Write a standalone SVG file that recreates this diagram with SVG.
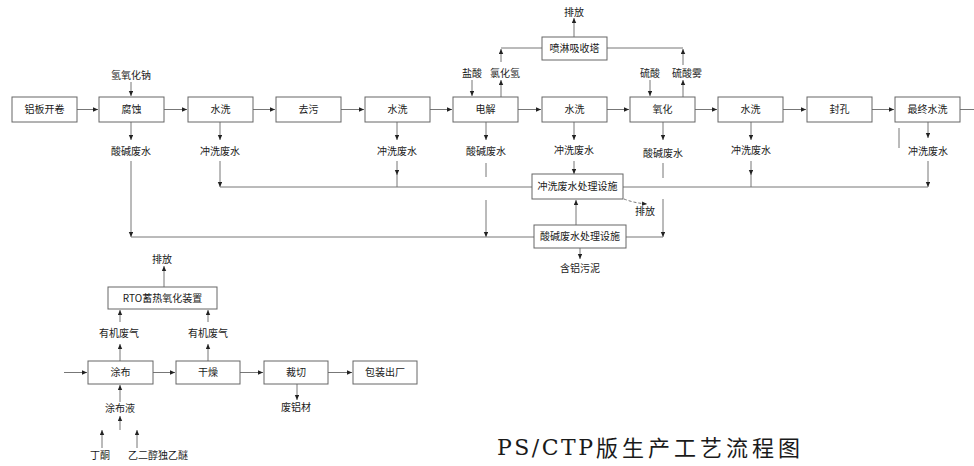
<svg xmlns="http://www.w3.org/2000/svg" width="974" height="466" viewBox="0 0 974 466">
<defs>
<marker id="ah" markerUnits="userSpaceOnUse" markerWidth="6" markerHeight="6" refX="5" refY="2.2" orient="auto">
<path d="M0,0 L5,2.2 L0,4.4 z" fill="#222"/>
</marker>
<style>
.bx{fill:#fff;stroke:#666;stroke-width:1}
.t{font-family:"Noto Sans CJK SC","Noto Sans",sans-serif;font-size:10px;fill:#1a1a1a;text-anchor:middle}
.ln{fill:none;stroke:#777;stroke-width:1}
.ar{fill:none;stroke:#777;stroke-width:1;marker-end:url(#ah)}
.ds{fill:none;stroke:#777;stroke-width:1;stroke-dasharray:3,2;marker-end:url(#ah)}
</style>
</defs>
<rect width="974" height="466" fill="#fff"/>

<g id="connectors">
<path class="ar" d="M77,109.5 H98"/>
<path class="ar" d="M164,109.5 H187"/>
<path class="ar" d="M253,109.5 H275"/>
<path class="ar" d="M341,109.5 H364"/>
<path class="ar" d="M430,109.5 H452"/>
<path class="ar" d="M518,109.5 H541"/>
<path class="ar" d="M607,109.5 H629"/>
<path class="ar" d="M695,109.5 H717"/>
<path class="ar" d="M783,109.5 H806"/>
<path class="ar" d="M872,109.5 H894"/>
<path class="ln" d="M960,109.5 H974"/>
<path class="ar" d="M131,82 V96"/>
<path class="ar" d="M472,80 V96"/>
<path class="ar" d="M501,97 V80"/>
<path class="ar" d="M650,80 V96"/>
<path class="ar" d="M683,97 V80"/>
<path class="ar" d="M501,62 V49"/>
<path class="ln" d="M501,48 H542"/>
<path class="ar" d="M683,65 V49"/>
<path class="ln" d="M607,48 H683"/>
<path class="ar" d="M574,37 V18"/>
<path class="ar" d="M131,122 V140"/>
<path class="ar" d="M220,122 V140"/>
<path class="ar" d="M397,122 V140"/>
<path class="ar" d="M486,122 V140"/>
<path class="ar" d="M574,122 V140"/>
<path class="ar" d="M663,122 V140"/>
<path class="ar" d="M751,122 V140"/>
<path class="ar" d="M928,122 V138"/>
<path class="ln" d="M899,128 V148"/>
<path class="ar" d="M220,161 V187"/>
<path class="ar" d="M397,161 V175"/><path class="ln" d="M397,174 V187"/>
<path class="ar" d="M574,161 V174"/>
<path class="ar" d="M751,161 V175"/><path class="ln" d="M751,174 V187"/>
<path class="ar" d="M928,161 V187"/>
<path class="ln" d="M220,187 H532"/>
<path class="ln" d="M623,187 H928"/>
<path class="ar" d="M131,161 V237"/>
<path class="ln" d="M486,163 V177"/>
<path class="ar" d="M486,200 V237"/>
<path class="ln" d="M663,163 V178"/>
<path class="ar" d="M663,199 V237"/>
<path class="ln" d="M131,237 H534"/>
<path class="ln" d="M626,237 H663"/>
<path class="ar" d="M576,225 V200"/>
<path class="ds" d="M624,199 Q634,203 647,204"/>
<path class="ar" d="M580,248 V259"/>
<path class="ar" d="M64,372.5 H87"/>
<path class="ar" d="M153,372.5 H175"/>
<path class="ar" d="M240,372.5 H263"/>
<path class="ar" d="M328,372.5 H352"/>
<path class="ar" d="M164,287 V266"/>
<path class="ar" d="M120,322 V310"/>
<path class="ar" d="M120,361 V344"/>
<path class="ar" d="M208,322 V310"/>
<path class="ar" d="M208,361 V344"/>
<path class="ar" d="M297,384 V400"/>
<path class="ar" d="M120,402 V385"/>
<path class="ar" d="M120,430 V416"/>
<path class="ar" d="M102,448 V430"/>
<path class="ar" d="M137,448 V430"/>
</g>

<g id="n-lbkj"><rect class="bx" x="12" y="97" width="65" height="25"/><text class="t" x="44.5" y="113">铝板开卷</text></g>
<g id="n-fs"><rect class="bx" x="99" y="97" width="65" height="25"/><text class="t" x="131.5" y="113">腐蚀</text></g>
<g id="n-sx1"><rect class="bx" x="188" y="97" width="65" height="25"/><text class="t" x="220.5" y="113">水洗</text></g>
<g id="n-qw"><rect class="bx" x="276" y="97" width="65" height="25"/><text class="t" x="308.5" y="113">去污</text></g>
<g id="n-sx2"><rect class="bx" x="365" y="97" width="65" height="25"/><text class="t" x="397.5" y="113">水洗</text></g>
<g id="n-dj"><rect class="bx" x="453" y="97" width="65" height="25"/><text class="t" x="485.5" y="113">电解</text></g>
<g id="n-sx3"><rect class="bx" x="542" y="97" width="65" height="25"/><text class="t" x="574.5" y="113">水洗</text></g>
<g id="n-yh"><rect class="bx" x="630" y="97" width="65" height="25"/><text class="t" x="662.5" y="113">氧化</text></g>
<g id="n-sx4"><rect class="bx" x="718" y="97" width="65" height="25"/><text class="t" x="750.5" y="113">水洗</text></g>
<g id="n-fk"><rect class="bx" x="807" y="97" width="65" height="25"/><text class="t" x="839.5" y="113">封孔</text></g>
<g id="n-zzsx"><rect class="bx" x="895" y="97" width="65" height="25"/><text class="t" x="927.5" y="113">最终水洗</text></g>

<g id="n-penlin"><rect class="bx" x="542" y="37" width="65" height="23"/><text class="t" x="574.5" y="52">喷淋吸收塔</text></g>
<g id="n-pf1"><text class="t" x="574" y="15.5">排放</text></g>
<g id="n-qyhn"><text class="t" x="131" y="78.5">氢氧化钠</text></g>
<g id="n-ys"><text class="t" x="472" y="76.5">盐酸</text></g>
<g id="n-lhq"><text class="t" x="505" y="76.5">氯化氢</text></g>
<g id="n-ls"><text class="t" x="650" y="76.5">硫酸</text></g>
<g id="n-lsw"><text class="t" x="687" y="76.5">硫酸雾</text></g>

<g id="n-w1"><text class="t" x="131" y="155">酸碱废水</text></g>
<g id="n-w2"><text class="t" x="220" y="155">冲洗废水</text></g>
<g id="n-w3"><text class="t" x="397" y="155">冲洗废水</text></g>
<g id="n-w4"><text class="t" x="486" y="155">酸碱废水</text></g>
<g id="n-w5"><text class="t" x="574" y="154">冲洗废水</text></g>
<g id="n-w6"><text class="t" x="663" y="157">酸碱废水</text></g>
<g id="n-w7"><text class="t" x="751" y="154">冲洗废水</text></g>
<g id="n-w8"><text class="t" x="928" y="155">冲洗废水</text></g>

<g id="n-cxcl"><rect class="bx" x="532" y="174" width="91" height="25"/><text class="t" x="577.5" y="190">冲洗废水处理设施</text></g>
<g id="n-sjcl"><rect class="bx" x="534" y="225" width="92" height="23"/><text class="t" x="580" y="240">酸碱废水处理设施</text></g>
<g id="n-pf2"><text class="t" x="645" y="214.5">排放</text></g>
<g id="n-hlwn"><text class="t" x="580" y="272">含铝污泥</text></g>

<g id="n-rto"><rect class="bx" x="108" y="287" width="109" height="22"/><text class="t" x="162.5" y="301.5">RTO蓄热氧化装置</text></g>
<g id="n-pf3"><text class="t" x="162" y="262.5">排放</text></g>
<g id="n-yj1"><text class="t" x="119" y="336.5">有机废气</text></g>
<g id="n-yj2"><text class="t" x="208" y="336.5">有机废气</text></g>
<g id="n-tb"><rect class="bx" x="88" y="361" width="65" height="23"/><text class="t" x="120.5" y="376">涂布</text></g>
<g id="n-gz"><rect class="bx" x="176" y="361" width="64" height="23"/><text class="t" x="208" y="376">干燥</text></g>
<g id="n-cq"><rect class="bx" x="264" y="361" width="64" height="23"/><text class="t" x="296" y="376">裁切</text></g>
<g id="n-bz"><rect class="bx" x="353" y="361" width="64" height="23"/><text class="t" x="385" y="376">包装出厂</text></g>
<g id="n-flc"><text class="t" x="296" y="410.5">废铝材</text></g>
<g id="n-tby"><text class="t" x="120" y="411.5">涂布液</text></g>
<g id="n-dt"><text class="t" x="100" y="458.5">丁酮</text></g>
<g id="n-yec"><text class="t" x="158" y="458.5">乙二醇独乙醚</text></g>

<g id="title">
<text x="497" y="455" font-family="DejaVu Serif, serif" font-size="22" fill="#1a1a1a" textLength="96" lengthAdjust="spacing">PS/CTP</text>
<text x="596" y="456" font-family="Noto Sans CJK SC, sans-serif" font-size="22" fill="#1a1a1a" textLength="204" lengthAdjust="spacing">版生产工艺流程图</text>
</g>
</svg>
